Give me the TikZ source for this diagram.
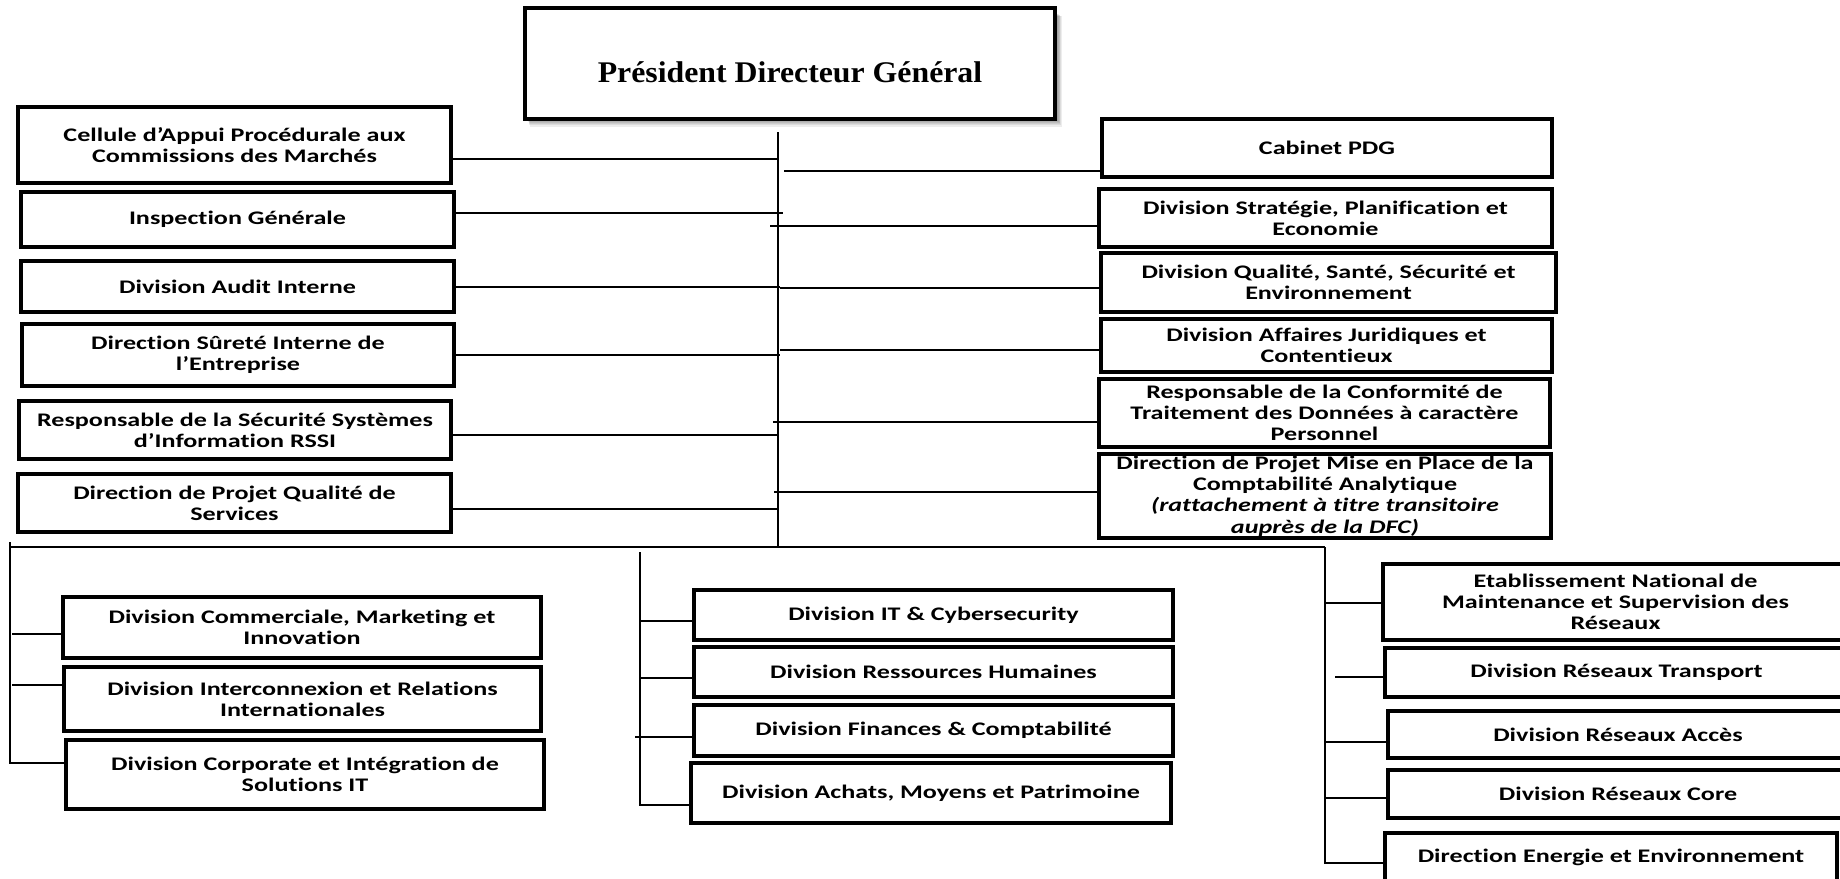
\documentclass[tikz,border=0pt]{standalone}
\usepackage{fontspec}
\newfontfamily\calfont[FakeStretch=1.36,Ligatures=NoCommon]{Carlito}
\newfontfamily\pdgfont[FakeStretch=1.06]{Liberation Serif}
\newcommand{\orgbox}[7][]{%
  \node[box, minimum width={(#5-#3)*0.5pt}, minimum height={(#6-#4)*0.5pt}, #1]
    (#2) at ({(#3+#5)/2},{(#4+#6)/2}) {#7};}
\begin{document}
\begin{tikzpicture}[x=0.5pt,y=-0.5pt,
  box/.style={draw=black, line width=1.6pt, fill=white, inner sep=0pt, align=center,
    font=\calfont\bfseries\fontsize{9.6}{10.6}\selectfont},
  link/.style={line width=0.95pt},
  trunk/.style={line width=1.4pt}]
\useasboundingbox (0,0) rectangle (1840,878);
\clip (0,0) rectangle (1840,878);
\fill[white] (0,0) rectangle (1840,878);

% PDG shadow
\foreach \i in {0,...,5}{
  \fill[black, opacity=0.07] ({528+\i*0.3},{14+\i*0.4}) rectangle ({1058+\i*0.8},{121+\i*1.1});
}
\node[draw=black, line width=1.6pt, fill=white, minimum width={530*0.5pt}, minimum height={111*0.5pt},
  inner sep=0pt, font=\pdgfont\bfseries\fontsize{15}{17}\selectfont, text height=19pt, text depth=0pt]
  (pdg) at (790,63.5) {Président Directeur Général};

% left column
\orgbox{cellule}{18}{107}{451}{183}{Cellule d’Appui Procédurale aux\\Commissions des Marchés}
\orgbox{inspection}{21}{192}{454}{247}{Inspection Générale}
\orgbox{audit}{21}{261}{454}{312}{Division Audit Interne}
\orgbox{surete}{22}{324}{454}{386}{Direction Sûreté Interne  de\\l’Entreprise}
\orgbox{rssi}{19}{401}{451}{459}{Responsable de la Sécurité Systèmes\\d’Information RSSI}
\orgbox{qds}{18}{474}{451}{532}{Direction de Projet Qualité de\\Services}

% right column
\orgbox{cabinet}{1102}{119}{1552}{177}{Cabinet PDG}
\orgbox{strategie}{1099}{189}{1552}{247}{Division Stratégie, Planification et\\Economie}
\orgbox{qualite}{1101}{253}{1556}{312}{Division Qualité, Santé, Sécurité et\\Environnement}
\orgbox{juridique}{1101}{319}{1552}{372}{Division Affaires Juridiques et\\Contentieux}
\orgbox{conformite}{1099}{379}{1550}{447}{Responsable de la Conformité de\\Traitement des Données à caractère\\Personnel}
\orgbox{compta}{1099}{454}{1551}{538}{Direction de Projet Mise en Place de la\\Comptabilité Analytique\\\textit{(rattachement à titre transitoire}\\\textit{auprès de la DFC)}}

% bottom left group
\orgbox{commerciale}{63}{597}{541}{658}{Division Commerciale, Marketing et\\Innovation}
\orgbox{interco}{64}{667}{541}{731}{Division Interconnexion  et Relations\\Internationales}
\orgbox{corporate}{66}{740}{544}{809}{Division Corporate et Intégration de\\Solutions IT}

% bottom middle group
\orgbox{it}{694}{590}{1173}{640}{Division IT \& Cybersecurity}
\orgbox{rh}{694}{647}{1173}{697}{Division Ressources Humaines}
\orgbox{finances}{694}{705}{1173}{756}{Division Finances  \& Comptabilité}
\orgbox{achats}{691}{763}{1171}{823}{Division Achats, Moyens et Patrimoine}

% bottom right group
\orgbox{etab}{1383}{564}{1848}{640}{Etablissement National de\\Maintenance et Supervision des\\Réseaux}
\orgbox{transport}{1385}{648}{1848}{697}{Division Réseaux Transport}
\orgbox{acces}{1388}{711}{1848}{758}{Division Réseaux Accès}
\orgbox{core}{1388}{770}{1848}{818}{Division Réseaux Core}
\orgbox[text height=5pt, text depth=59.5pt]{energie}{1385}{833}{1837}{1000}{Direction Energie et Environnement}

% trunk
\coordinate (tTop) at (778,132);
\coordinate (tBot) at (778,547);
\draw[trunk] (tTop) -- (tBot);

% left connectors
\coordinate (l1) at (778,159);
\coordinate (l2) at (783,213);
\coordinate (l3) at (780,287);
\coordinate (l4) at (780,355);
\coordinate (l5) at (778,435);
\coordinate (l6) at (778,509);
\draw[link] (l1 -| cellule.east) -- (l1);
\draw[link] (l2 -| inspection.east) -- (l2);
\draw[link] (l3 -| audit.east) -- (l3);
\draw[link] (l4 -| surete.east) -- (l4);
\draw[link] (l5 -| rssi.east) -- (l5);
\draw[link] (l6 -| qds.east) -- (l6);

% right connectors
\coordinate (r1) at (784,171);
\coordinate (r2) at (770,226);
\coordinate (r3) at (780,288);
\coordinate (r4) at (780,350);
\coordinate (r5) at (773,422);
\coordinate (r6) at (774,492);
\draw[link] (r1) -- (r1 -| cabinet.west);
\draw[link] (r2) -- (r2 -| strategie.west);
\draw[link] (r3) -- (r3 -| qualite.west);
\draw[link] (r4) -- (r4 -| juridique.west);
\draw[link] (r5) -- (r5 -| conformite.west);
\draw[link] (r6) -- (r6 -| compta.west);

% bus
\coordinate (busL) at (10,547);
\coordinate (busR) at (1325,547);
\draw[trunk] (busL) -- (busR);

% left group
\coordinate (gl0) at (10,542);
\coordinate (gl1) at (12,634);
\coordinate (gl2) at (12,685);
\coordinate (gl3) at (10,763);
\draw[trunk] (gl0) -- (gl3) -- (gl3 -| corporate.west);
\draw[link] (gl1) -- (gl1 -| commerciale.west);
\draw[link] (gl2) -- (gl2 -| interco.west);

% middle group
\coordinate (gm0) at (640,552);
\coordinate (gm1) at (640,621);
\coordinate (gm2) at (640,678);
\coordinate (gm3) at (635,737);
\coordinate (gm4) at (640,805);
\draw[trunk] (gm0) -- (gm4) -- (gm4 -| achats.west);
\draw[link] (gm1) -- (gm1 -| it.west);
\draw[link] (gm2) -- (gm2 -| rh.west);
\draw[link] (gm3) -- (gm3 -| finances.west);

% right group
\coordinate (gr1) at (1325,603);
\coordinate (gr2) at (1335,677);
\coordinate (gr3) at (1325,742);
\coordinate (gr4) at (1325,798);
\coordinate (gr5) at (1325,863);
\draw[trunk] (busR) -- (gr5) -- (gr5 -| energie.west);
\draw[link] (gr1) -- (gr1 -| etab.west);
\draw[link] (gr2) -- (gr2 -| transport.west);
\draw[link] (gr3) -- (gr3 -| acces.west);
\draw[link] (gr4) -- (gr4 -| core.west);
\end{tikzpicture}
\end{document}
